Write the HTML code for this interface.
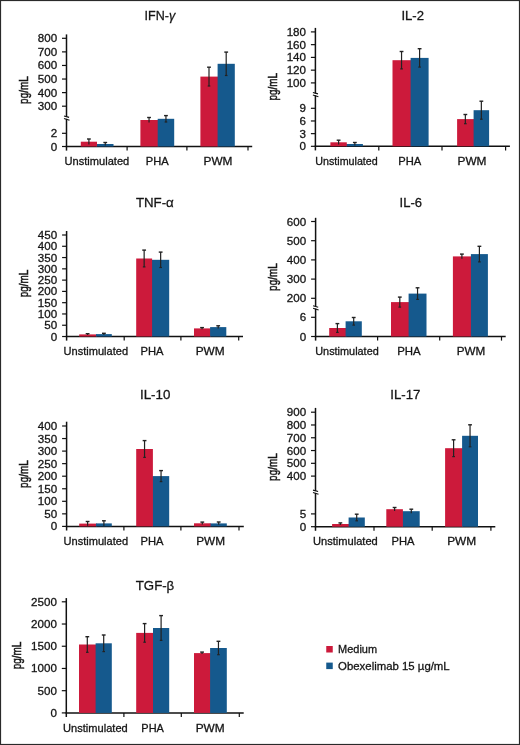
<!DOCTYPE html>
<html><head><meta charset="utf-8"><title>Cytokines</title>
<style>
html,body{margin:0;padding:0;background:#fff;}
body{width:520px;height:745px;overflow:hidden;}
svg{display:block;will-change:transform;}
text{font-family:"Liberation Sans", sans-serif;fill:#151515;stroke:#151515;stroke-width:0.3px;}
</style></head><body>
<svg width="520" height="745" viewBox="0 0 520 745">
<rect x="0" y="0" width="520" height="745" fill="#fff"/>
<rect x="0.5" y="0.5" width="519" height="744" fill="none" stroke="#2a2a2a" stroke-width="1.2"/>
<line x1="66.5" y1="34.4" x2="66.5" y2="117.0" stroke="#111" stroke-width="1.5"/>
<line x1="66.5" y1="118.8" x2="66.5" y2="150.6" stroke="#111" stroke-width="1.5"/>
<line x1="64.0" y1="116.0" x2="69.1" y2="117.4" stroke="#111" stroke-width="1.1"/>
<line x1="64.0" y1="118.4" x2="69.5" y2="120.2" stroke="#111" stroke-width="1.1"/>
<line x1="62.0" y1="38.3" x2="66.5" y2="38.3" stroke="#111" stroke-width="1.2"/>
<text x="57.10" y="42.30" font-size="11.6" text-anchor="end" >800</text>
<line x1="62.0" y1="51.88" x2="66.5" y2="51.88" stroke="#111" stroke-width="1.2"/>
<text x="57.10" y="55.88" font-size="11.6" text-anchor="end" >700</text>
<line x1="62.0" y1="65.46" x2="66.5" y2="65.46" stroke="#111" stroke-width="1.2"/>
<text x="57.10" y="69.46" font-size="11.6" text-anchor="end" >600</text>
<line x1="62.0" y1="79.04" x2="66.5" y2="79.04" stroke="#111" stroke-width="1.2"/>
<text x="57.10" y="83.04" font-size="11.6" text-anchor="end" >500</text>
<line x1="62.0" y1="92.62" x2="66.5" y2="92.62" stroke="#111" stroke-width="1.2"/>
<text x="57.10" y="96.62" font-size="11.6" text-anchor="end" >400</text>
<line x1="62.0" y1="106.2" x2="66.5" y2="106.2" stroke="#111" stroke-width="1.2"/>
<text x="57.10" y="110.20" font-size="11.6" text-anchor="end" >300</text>
<line x1="62.0" y1="133.3" x2="66.5" y2="133.3" stroke="#111" stroke-width="1.2"/>
<text x="57.10" y="137.30" font-size="11.6" text-anchor="end" >2</text>
<line x1="62.0" y1="146.5" x2="66.5" y2="146.5" stroke="#111" stroke-width="1.2"/>
<text x="57.10" y="150.50" font-size="11.6" text-anchor="end" >0</text>
<line x1="65.75" y1="146.5" x2="252.2" y2="146.5" stroke="#111" stroke-width="1.5"/>
<line x1="127.1" y1="146.5" x2="127.1" y2="150.6" stroke="#111" stroke-width="1.2"/>
<line x1="186.9" y1="146.5" x2="186.9" y2="150.6" stroke="#111" stroke-width="1.2"/>
<line x1="248" y1="146.5" x2="248" y2="150.6" stroke="#111" stroke-width="1.2"/>
<rect x="96.20" y="144" width="17.30" height="2.50" fill="#15598d"/>
<rect x="80.8" y="141.7" width="16.20" height="4.80" fill="#cc1a3b"/>
<rect x="140.4" y="120" width="18.10" height="26.50" fill="#cc1a3b"/>
<rect x="157.7" y="118.8" width="16.50" height="27.70" fill="#15598d"/>
<rect x="200.4" y="76.6" width="18.00" height="69.90" fill="#cc1a3b"/>
<rect x="217.6" y="63.8" width="17.20" height="82.70" fill="#15598d"/>
<line x1="88.90" y1="139" x2="88.90" y2="144.40" stroke="#222" stroke-width="1.2"/>
<line x1="87.00" y1="139" x2="90.80" y2="139" stroke="#222" stroke-width="1.4"/>
<line x1="105.25" y1="142.5" x2="105.25" y2="145.50" stroke="#222" stroke-width="1.2"/>
<line x1="103.35" y1="142.5" x2="107.15" y2="142.5" stroke="#222" stroke-width="1.4"/>
<line x1="149.05" y1="117.5" x2="149.05" y2="122.50" stroke="#222" stroke-width="1.2"/>
<line x1="147.15" y1="117.5" x2="150.95" y2="117.5" stroke="#222" stroke-width="1.4"/>
<line x1="165.95" y1="115.6" x2="165.95" y2="122.00" stroke="#222" stroke-width="1.2"/>
<line x1="164.05" y1="115.6" x2="167.85" y2="115.6" stroke="#222" stroke-width="1.4"/>
<line x1="164.65" y1="122.00" x2="167.25" y2="122.00" stroke="#222" stroke-width="1.2"/>
<line x1="209.00" y1="67.2" x2="209.00" y2="86.00" stroke="#222" stroke-width="1.2"/>
<line x1="207.10" y1="67.2" x2="210.90" y2="67.2" stroke="#222" stroke-width="1.4"/>
<line x1="207.70" y1="86.00" x2="210.30" y2="86.00" stroke="#222" stroke-width="1.2"/>
<line x1="226.20" y1="52.1" x2="226.20" y2="75.50" stroke="#222" stroke-width="1.2"/>
<line x1="224.30" y1="52.1" x2="228.10" y2="52.1" stroke="#222" stroke-width="1.4"/>
<line x1="224.90" y1="75.50" x2="227.50" y2="75.50" stroke="#222" stroke-width="1.2"/>
<text x="96.90" y="165.30" font-size="11.2" text-anchor="middle" textLength="64.7" lengthAdjust="spacingAndGlyphs">Unstimulated</text>
<text x="157.30" y="165.30" font-size="11.2" text-anchor="middle" textLength="22.9" lengthAdjust="spacingAndGlyphs">PHA</text>
<text x="218.00" y="165.30" font-size="11.2" text-anchor="middle" textLength="28.9" lengthAdjust="spacingAndGlyphs">PWM</text>
<text x="144.6" y="19.6" font-size="13.6" textLength="30.599999999999994" lengthAdjust="spacingAndGlyphs">IFN-<tspan font-style="italic">γ</tspan></text>
<text transform="translate(27.6,90.1) rotate(-90)" x="0" y="0" font-size="13.6" text-anchor="middle" style="stroke-width:0.55px" textLength="27.6" lengthAdjust="spacingAndGlyphs">pg/mL</text>
<line x1="315.4" y1="27.9" x2="315.4" y2="93.5" stroke="#111" stroke-width="1.5"/>
<line x1="315.4" y1="95.3" x2="315.4" y2="150.4" stroke="#111" stroke-width="1.5"/>
<line x1="312.9" y1="92.5" x2="318.0" y2="93.9" stroke="#111" stroke-width="1.1"/>
<line x1="312.9" y1="94.9" x2="318.4" y2="96.7" stroke="#111" stroke-width="1.1"/>
<line x1="310.9" y1="31.9" x2="315.4" y2="31.9" stroke="#111" stroke-width="1.2"/>
<text x="306.00" y="35.90" font-size="11.6" text-anchor="end" >180</text>
<line x1="310.9" y1="44.65" x2="315.4" y2="44.65" stroke="#111" stroke-width="1.2"/>
<text x="306.00" y="48.65" font-size="11.6" text-anchor="end" >160</text>
<line x1="310.9" y1="57.4" x2="315.4" y2="57.4" stroke="#111" stroke-width="1.2"/>
<text x="306.00" y="61.40" font-size="11.6" text-anchor="end" >140</text>
<line x1="310.9" y1="70.15" x2="315.4" y2="70.15" stroke="#111" stroke-width="1.2"/>
<text x="306.00" y="74.15" font-size="11.6" text-anchor="end" >120</text>
<line x1="310.9" y1="82.9" x2="315.4" y2="82.9" stroke="#111" stroke-width="1.2"/>
<text x="306.00" y="86.90" font-size="11.6" text-anchor="end" >100</text>
<line x1="310.9" y1="108.3" x2="315.4" y2="108.3" stroke="#111" stroke-width="1.2"/>
<text x="306.00" y="112.30" font-size="11.6" text-anchor="end" >9</text>
<line x1="310.9" y1="120.97" x2="315.4" y2="120.97" stroke="#111" stroke-width="1.2"/>
<text x="306.00" y="124.97" font-size="11.6" text-anchor="end" >6</text>
<line x1="310.9" y1="133.64" x2="315.4" y2="133.64" stroke="#111" stroke-width="1.2"/>
<text x="306.00" y="137.64" font-size="11.6" text-anchor="end" >3</text>
<line x1="310.9" y1="146.31" x2="315.4" y2="146.31" stroke="#111" stroke-width="1.2"/>
<text x="306.00" y="150.31" font-size="11.6" text-anchor="end" >0</text>
<line x1="314.65" y1="146.3" x2="509.9" y2="146.3" stroke="#111" stroke-width="1.5"/>
<line x1="378.8" y1="146.3" x2="378.8" y2="150.4" stroke="#111" stroke-width="1.2"/>
<line x1="442" y1="146.3" x2="442" y2="150.4" stroke="#111" stroke-width="1.2"/>
<line x1="505.6" y1="146.3" x2="505.6" y2="150.4" stroke="#111" stroke-width="1.2"/>
<rect x="346.00" y="144" width="16.90" height="2.30" fill="#15598d"/>
<rect x="330.4" y="142.3" width="16.40" height="4.00" fill="#cc1a3b"/>
<rect x="392.5" y="60.2" width="18.90" height="86.10" fill="#cc1a3b"/>
<rect x="410.6" y="57.9" width="18.00" height="88.40" fill="#15598d"/>
<rect x="457.1" y="119.1" width="17.30" height="27.20" fill="#cc1a3b"/>
<rect x="473.6" y="110.2" width="15.50" height="36.10" fill="#15598d"/>
<line x1="338.60" y1="140.2" x2="338.60" y2="144.40" stroke="#222" stroke-width="1.2"/>
<line x1="336.70" y1="140.2" x2="340.50" y2="140.2" stroke="#222" stroke-width="1.4"/>
<line x1="354.85" y1="142.5" x2="354.85" y2="145.50" stroke="#222" stroke-width="1.2"/>
<line x1="352.95" y1="142.5" x2="356.75" y2="142.5" stroke="#222" stroke-width="1.4"/>
<line x1="401.55" y1="51.5" x2="401.55" y2="68.90" stroke="#222" stroke-width="1.2"/>
<line x1="399.65" y1="51.5" x2="403.45" y2="51.5" stroke="#222" stroke-width="1.4"/>
<line x1="400.25" y1="68.90" x2="402.85" y2="68.90" stroke="#222" stroke-width="1.2"/>
<line x1="419.60" y1="48.7" x2="419.60" y2="67.10" stroke="#222" stroke-width="1.2"/>
<line x1="417.70" y1="48.7" x2="421.50" y2="48.7" stroke="#222" stroke-width="1.4"/>
<line x1="418.30" y1="67.10" x2="420.90" y2="67.10" stroke="#222" stroke-width="1.2"/>
<line x1="465.35" y1="114.5" x2="465.35" y2="123.70" stroke="#222" stroke-width="1.2"/>
<line x1="463.45" y1="114.5" x2="467.25" y2="114.5" stroke="#222" stroke-width="1.4"/>
<line x1="464.05" y1="123.70" x2="466.65" y2="123.70" stroke="#222" stroke-width="1.2"/>
<line x1="481.35" y1="101.2" x2="481.35" y2="119.20" stroke="#222" stroke-width="1.2"/>
<line x1="479.45" y1="101.2" x2="483.25" y2="101.2" stroke="#222" stroke-width="1.4"/>
<line x1="480.05" y1="119.20" x2="482.65" y2="119.20" stroke="#222" stroke-width="1.2"/>
<text x="346.50" y="165.00" font-size="11.2" text-anchor="middle" textLength="62.5" lengthAdjust="spacingAndGlyphs">Unstimulated</text>
<text x="409.70" y="165.00" font-size="11.2" text-anchor="middle" textLength="23" lengthAdjust="spacingAndGlyphs">PHA</text>
<text x="472.00" y="165.00" font-size="11.2" text-anchor="middle" textLength="29" lengthAdjust="spacingAndGlyphs">PWM</text>
<text x="401.4" y="20" font-size="13.6" textLength="22.600000000000023" lengthAdjust="spacingAndGlyphs">IL-2</text>
<text transform="translate(277.2,86.8) rotate(-90)" x="0" y="0" font-size="13.6" text-anchor="middle" style="stroke-width:0.55px" textLength="27.6" lengthAdjust="spacingAndGlyphs">pg/mL</text>
<line x1="66.6" y1="231" x2="66.6" y2="340.6" stroke="#111" stroke-width="1.5"/>
<line x1="62.099999999999994" y1="235.0" x2="66.6" y2="235.0" stroke="#111" stroke-width="1.2"/>
<text x="57.20" y="239.00" font-size="11.6" text-anchor="end" >450</text>
<line x1="62.099999999999994" y1="246.28" x2="66.6" y2="246.28" stroke="#111" stroke-width="1.2"/>
<text x="57.20" y="250.28" font-size="11.6" text-anchor="end" >400</text>
<line x1="62.099999999999994" y1="257.56" x2="66.6" y2="257.56" stroke="#111" stroke-width="1.2"/>
<text x="57.20" y="261.56" font-size="11.6" text-anchor="end" >350</text>
<line x1="62.099999999999994" y1="268.84" x2="66.6" y2="268.84" stroke="#111" stroke-width="1.2"/>
<text x="57.20" y="272.84" font-size="11.6" text-anchor="end" >300</text>
<line x1="62.099999999999994" y1="280.12" x2="66.6" y2="280.12" stroke="#111" stroke-width="1.2"/>
<text x="57.20" y="284.12" font-size="11.6" text-anchor="end" >250</text>
<line x1="62.099999999999994" y1="291.4" x2="66.6" y2="291.4" stroke="#111" stroke-width="1.2"/>
<text x="57.20" y="295.40" font-size="11.6" text-anchor="end" >200</text>
<line x1="62.099999999999994" y1="302.68" x2="66.6" y2="302.68" stroke="#111" stroke-width="1.2"/>
<text x="57.20" y="306.68" font-size="11.6" text-anchor="end" >150</text>
<line x1="62.099999999999994" y1="313.96" x2="66.6" y2="313.96" stroke="#111" stroke-width="1.2"/>
<text x="57.20" y="317.96" font-size="11.6" text-anchor="end" >100</text>
<line x1="62.099999999999994" y1="325.24" x2="66.6" y2="325.24" stroke="#111" stroke-width="1.2"/>
<text x="57.20" y="329.24" font-size="11.6" text-anchor="end" >50</text>
<line x1="62.099999999999994" y1="336.52" x2="66.6" y2="336.52" stroke="#111" stroke-width="1.2"/>
<text x="57.20" y="340.52" font-size="11.6" text-anchor="end" >0</text>
<line x1="65.85" y1="336.5" x2="243" y2="336.5" stroke="#111" stroke-width="1.5"/>
<line x1="124.2" y1="336.5" x2="124.2" y2="340.6" stroke="#111" stroke-width="1.2"/>
<line x1="180.9" y1="336.5" x2="180.9" y2="340.6" stroke="#111" stroke-width="1.2"/>
<line x1="238.7" y1="336.5" x2="238.7" y2="340.6" stroke="#111" stroke-width="1.2"/>
<rect x="79.2" y="334.4" width="17.60" height="2.10" fill="#cc1a3b"/>
<rect x="96" y="334.1" width="15.80" height="2.40" fill="#15598d"/>
<rect x="151.30" y="259.8" width="17.90" height="76.70" fill="#15598d"/>
<rect x="136.2" y="258.5" width="15.90" height="78.00" fill="#cc1a3b"/>
<rect x="194" y="328.4" width="16.90" height="8.10" fill="#cc1a3b"/>
<rect x="210.1" y="327.1" width="16.20" height="9.40" fill="#15598d"/>
<line x1="87.60" y1="333.7" x2="87.60" y2="335.10" stroke="#222" stroke-width="1.2"/>
<line x1="85.70" y1="333.7" x2="89.50" y2="333.7" stroke="#222" stroke-width="1.4"/>
<line x1="103.90" y1="333.3" x2="103.90" y2="334.90" stroke="#222" stroke-width="1.2"/>
<line x1="102.00" y1="333.3" x2="105.80" y2="333.3" stroke="#222" stroke-width="1.4"/>
<line x1="144.15" y1="250.1" x2="144.15" y2="266.90" stroke="#222" stroke-width="1.2"/>
<line x1="142.25" y1="250.1" x2="146.05" y2="250.1" stroke="#222" stroke-width="1.4"/>
<line x1="142.85" y1="266.90" x2="145.45" y2="266.90" stroke="#222" stroke-width="1.2"/>
<line x1="160.65" y1="252.1" x2="160.65" y2="267.50" stroke="#222" stroke-width="1.2"/>
<line x1="158.75" y1="252.1" x2="162.55" y2="252.1" stroke="#222" stroke-width="1.4"/>
<line x1="159.35" y1="267.50" x2="161.95" y2="267.50" stroke="#222" stroke-width="1.2"/>
<line x1="202.05" y1="327.6" x2="202.05" y2="329.20" stroke="#222" stroke-width="1.2"/>
<line x1="200.15" y1="327.6" x2="203.95" y2="327.6" stroke="#222" stroke-width="1.4"/>
<line x1="218.20" y1="325.8" x2="218.20" y2="328.40" stroke="#222" stroke-width="1.2"/>
<line x1="216.30" y1="325.8" x2="220.10" y2="325.8" stroke="#222" stroke-width="1.4"/>
<text x="95.80" y="355.30" font-size="11.2" text-anchor="middle" textLength="64.5" lengthAdjust="spacingAndGlyphs">Unstimulated</text>
<text x="152.00" y="355.30" font-size="11.2" text-anchor="middle" textLength="23" lengthAdjust="spacingAndGlyphs">PHA</text>
<text x="210.20" y="355.30" font-size="11.2" text-anchor="middle" textLength="29" lengthAdjust="spacingAndGlyphs">PWM</text>
<text x="135.9" y="206.9" font-size="13.6" textLength="37.900000000000006" lengthAdjust="spacingAndGlyphs">TNF-α</text>
<text transform="translate(27.6,283.5) rotate(-90)" x="0" y="0" font-size="13.6" text-anchor="middle" style="stroke-width:0.55px" textLength="27.6" lengthAdjust="spacingAndGlyphs">pg/mL</text>
<line x1="315.6" y1="217.8" x2="315.6" y2="306.8" stroke="#111" stroke-width="1.5"/>
<line x1="315.6" y1="308.6" x2="315.6" y2="340.6" stroke="#111" stroke-width="1.5"/>
<line x1="313.1" y1="305.8" x2="318.20000000000005" y2="307.2" stroke="#111" stroke-width="1.1"/>
<line x1="313.1" y1="308.2" x2="318.6" y2="310.0" stroke="#111" stroke-width="1.1"/>
<line x1="311.1" y1="221.5" x2="315.6" y2="221.5" stroke="#111" stroke-width="1.2"/>
<text x="306.20" y="225.50" font-size="11.6" text-anchor="end" >600</text>
<line x1="311.1" y1="240.7" x2="315.6" y2="240.7" stroke="#111" stroke-width="1.2"/>
<text x="306.20" y="244.70" font-size="11.6" text-anchor="end" >500</text>
<line x1="311.1" y1="259.9" x2="315.6" y2="259.9" stroke="#111" stroke-width="1.2"/>
<text x="306.20" y="263.90" font-size="11.6" text-anchor="end" >400</text>
<line x1="311.1" y1="279.1" x2="315.6" y2="279.1" stroke="#111" stroke-width="1.2"/>
<text x="306.20" y="283.10" font-size="11.6" text-anchor="end" >300</text>
<line x1="311.1" y1="298.3" x2="315.6" y2="298.3" stroke="#111" stroke-width="1.2"/>
<text x="306.20" y="302.30" font-size="11.6" text-anchor="end" >200</text>
<line x1="311.1" y1="317.3" x2="315.6" y2="317.3" stroke="#111" stroke-width="1.2"/>
<text x="306.20" y="321.30" font-size="11.6" text-anchor="end" >6</text>
<line x1="311.1" y1="336.5" x2="315.6" y2="336.5" stroke="#111" stroke-width="1.2"/>
<text x="306.20" y="340.50" font-size="11.6" text-anchor="end" >0</text>
<line x1="314.85" y1="336.5" x2="505.7" y2="336.5" stroke="#111" stroke-width="1.5"/>
<line x1="377.6" y1="336.5" x2="377.6" y2="340.6" stroke="#111" stroke-width="1.2"/>
<line x1="439.7" y1="336.5" x2="439.7" y2="340.6" stroke="#111" stroke-width="1.2"/>
<line x1="501.5" y1="336.5" x2="501.5" y2="340.6" stroke="#111" stroke-width="1.2"/>
<rect x="329.2" y="328" width="17.20" height="8.50" fill="#cc1a3b"/>
<rect x="345.6" y="321.3" width="16.20" height="15.20" fill="#15598d"/>
<rect x="391" y="302.1" width="18.40" height="34.40" fill="#cc1a3b"/>
<rect x="408.6" y="293.6" width="17.90" height="42.90" fill="#15598d"/>
<rect x="452.9" y="256.4" width="18.80" height="80.10" fill="#cc1a3b"/>
<rect x="470.9" y="254.1" width="17.00" height="82.40" fill="#15598d"/>
<line x1="337.40" y1="323.6" x2="337.40" y2="332.40" stroke="#222" stroke-width="1.2"/>
<line x1="335.50" y1="323.6" x2="339.30" y2="323.6" stroke="#222" stroke-width="1.4"/>
<line x1="336.10" y1="332.40" x2="338.70" y2="332.40" stroke="#222" stroke-width="1.2"/>
<line x1="353.70" y1="317.5" x2="353.70" y2="325.10" stroke="#222" stroke-width="1.2"/>
<line x1="351.80" y1="317.5" x2="355.60" y2="317.5" stroke="#222" stroke-width="1.4"/>
<line x1="352.40" y1="325.10" x2="355.00" y2="325.10" stroke="#222" stroke-width="1.2"/>
<line x1="399.80" y1="297.1" x2="399.80" y2="307.10" stroke="#222" stroke-width="1.2"/>
<line x1="397.90" y1="297.1" x2="401.70" y2="297.1" stroke="#222" stroke-width="1.4"/>
<line x1="398.50" y1="307.10" x2="401.10" y2="307.10" stroke="#222" stroke-width="1.2"/>
<line x1="417.55" y1="287.8" x2="417.55" y2="299.40" stroke="#222" stroke-width="1.2"/>
<line x1="415.65" y1="287.8" x2="419.45" y2="287.8" stroke="#222" stroke-width="1.4"/>
<line x1="416.25" y1="299.40" x2="418.85" y2="299.40" stroke="#222" stroke-width="1.2"/>
<line x1="461.90" y1="254.1" x2="461.90" y2="258.70" stroke="#222" stroke-width="1.2"/>
<line x1="460.00" y1="254.1" x2="463.80" y2="254.1" stroke="#222" stroke-width="1.4"/>
<line x1="479.40" y1="246.3" x2="479.40" y2="261.90" stroke="#222" stroke-width="1.2"/>
<line x1="477.50" y1="246.3" x2="481.30" y2="246.3" stroke="#222" stroke-width="1.4"/>
<line x1="478.10" y1="261.90" x2="480.70" y2="261.90" stroke="#222" stroke-width="1.2"/>
<text x="347.00" y="355.40" font-size="11.2" text-anchor="middle" textLength="63.5" lengthAdjust="spacingAndGlyphs">Unstimulated</text>
<text x="409.00" y="355.40" font-size="11.2" text-anchor="middle" textLength="23.5" lengthAdjust="spacingAndGlyphs">PHA</text>
<text x="471.00" y="355.40" font-size="11.2" text-anchor="middle" textLength="28.5" lengthAdjust="spacingAndGlyphs">PWM</text>
<text x="399.6" y="207.1" font-size="13.6" textLength="22.399999999999977" lengthAdjust="spacingAndGlyphs">IL-6</text>
<text transform="translate(277.2,277.1) rotate(-90)" x="0" y="0" font-size="13.6" text-anchor="middle" style="stroke-width:0.55px" textLength="27.6" lengthAdjust="spacingAndGlyphs">pg/mL</text>
<line x1="66.6" y1="421.7" x2="66.6" y2="530.5" stroke="#111" stroke-width="1.5"/>
<line x1="62.099999999999994" y1="426.0" x2="66.6" y2="426.0" stroke="#111" stroke-width="1.2"/>
<text x="57.20" y="430.00" font-size="11.6" text-anchor="end" >400</text>
<line x1="62.099999999999994" y1="438.55" x2="66.6" y2="438.55" stroke="#111" stroke-width="1.2"/>
<text x="57.20" y="442.55" font-size="11.6" text-anchor="end" >350</text>
<line x1="62.099999999999994" y1="451.1" x2="66.6" y2="451.1" stroke="#111" stroke-width="1.2"/>
<text x="57.20" y="455.10" font-size="11.6" text-anchor="end" >300</text>
<line x1="62.099999999999994" y1="463.65" x2="66.6" y2="463.65" stroke="#111" stroke-width="1.2"/>
<text x="57.20" y="467.65" font-size="11.6" text-anchor="end" >250</text>
<line x1="62.099999999999994" y1="476.2" x2="66.6" y2="476.2" stroke="#111" stroke-width="1.2"/>
<text x="57.20" y="480.20" font-size="11.6" text-anchor="end" >200</text>
<line x1="62.099999999999994" y1="488.75" x2="66.6" y2="488.75" stroke="#111" stroke-width="1.2"/>
<text x="57.20" y="492.75" font-size="11.6" text-anchor="end" >150</text>
<line x1="62.099999999999994" y1="501.3" x2="66.6" y2="501.3" stroke="#111" stroke-width="1.2"/>
<text x="57.20" y="505.30" font-size="11.6" text-anchor="end" >100</text>
<line x1="62.099999999999994" y1="513.85" x2="66.6" y2="513.85" stroke="#111" stroke-width="1.2"/>
<text x="57.20" y="517.85" font-size="11.6" text-anchor="end" >50</text>
<line x1="62.099999999999994" y1="526.4" x2="66.6" y2="526.4" stroke="#111" stroke-width="1.2"/>
<text x="57.20" y="530.40" font-size="11.6" text-anchor="end" >0</text>
<line x1="65.85" y1="526.4" x2="243.8" y2="526.4" stroke="#111" stroke-width="1.5"/>
<line x1="123.9" y1="526.4" x2="123.9" y2="530.5" stroke="#111" stroke-width="1.2"/>
<line x1="180.9" y1="526.4" x2="180.9" y2="530.5" stroke="#111" stroke-width="1.2"/>
<line x1="239" y1="526.4" x2="239" y2="530.5" stroke="#111" stroke-width="1.2"/>
<rect x="79.2" y="523.6" width="17.60" height="2.80" fill="#cc1a3b"/>
<rect x="96" y="523.4" width="15.80" height="3.00" fill="#15598d"/>
<rect x="152.10" y="476.1" width="17.10" height="50.30" fill="#15598d"/>
<rect x="136.2" y="449" width="16.70" height="77.40" fill="#cc1a3b"/>
<rect x="209.80" y="523.4" width="17.00" height="3.00" fill="#15598d"/>
<rect x="194" y="523.3" width="16.60" height="3.10" fill="#cc1a3b"/>
<line x1="87.60" y1="521.5" x2="87.60" y2="525.70" stroke="#222" stroke-width="1.2"/>
<line x1="85.70" y1="521.5" x2="89.50" y2="521.5" stroke="#222" stroke-width="1.4"/>
<line x1="103.90" y1="520.8" x2="103.90" y2="526.00" stroke="#222" stroke-width="1.2"/>
<line x1="102.00" y1="520.8" x2="105.80" y2="520.8" stroke="#222" stroke-width="1.4"/>
<line x1="144.55" y1="440.6" x2="144.55" y2="457.40" stroke="#222" stroke-width="1.2"/>
<line x1="142.65" y1="440.6" x2="146.45" y2="440.6" stroke="#222" stroke-width="1.4"/>
<line x1="143.25" y1="457.40" x2="145.85" y2="457.40" stroke="#222" stroke-width="1.2"/>
<line x1="161.05" y1="470.6" x2="161.05" y2="481.60" stroke="#222" stroke-width="1.2"/>
<line x1="159.15" y1="470.6" x2="162.95" y2="470.6" stroke="#222" stroke-width="1.4"/>
<line x1="159.75" y1="481.60" x2="162.35" y2="481.60" stroke="#222" stroke-width="1.2"/>
<line x1="202.30" y1="522.1" x2="202.30" y2="524.50" stroke="#222" stroke-width="1.2"/>
<line x1="200.40" y1="522.1" x2="204.20" y2="522.1" stroke="#222" stroke-width="1.4"/>
<line x1="218.70" y1="522" x2="218.70" y2="524.80" stroke="#222" stroke-width="1.2"/>
<line x1="216.80" y1="522" x2="220.60" y2="522" stroke="#222" stroke-width="1.4"/>
<text x="95.80" y="545.20" font-size="11.2" text-anchor="middle" textLength="64.6" lengthAdjust="spacingAndGlyphs">Unstimulated</text>
<text x="152.00" y="545.20" font-size="11.2" text-anchor="middle" textLength="23" lengthAdjust="spacingAndGlyphs">PHA</text>
<text x="210.60" y="545.20" font-size="11.2" text-anchor="middle" textLength="28.8" lengthAdjust="spacingAndGlyphs">PWM</text>
<text x="140.0" y="399" font-size="13.6" textLength="30.400000000000006" lengthAdjust="spacingAndGlyphs">IL-10</text>
<text transform="translate(27.6,474.1) rotate(-90)" x="0" y="0" font-size="13.6" text-anchor="middle" style="stroke-width:0.55px" textLength="27.6" lengthAdjust="spacingAndGlyphs">pg/mL</text>
<line x1="315.5" y1="407.9" x2="315.5" y2="491.1" stroke="#111" stroke-width="1.5"/>
<line x1="315.5" y1="492.90000000000003" x2="315.5" y2="530.8000000000001" stroke="#111" stroke-width="1.5"/>
<line x1="313.0" y1="490.1" x2="318.1" y2="491.5" stroke="#111" stroke-width="1.1"/>
<line x1="313.0" y1="492.5" x2="318.5" y2="494.3" stroke="#111" stroke-width="1.1"/>
<line x1="311.0" y1="412.2" x2="315.5" y2="412.2" stroke="#111" stroke-width="1.2"/>
<text x="306.10" y="416.20" font-size="11.6" text-anchor="end" >900</text>
<line x1="311.0" y1="424.98" x2="315.5" y2="424.98" stroke="#111" stroke-width="1.2"/>
<text x="306.10" y="428.98" font-size="11.6" text-anchor="end" >800</text>
<line x1="311.0" y1="437.76" x2="315.5" y2="437.76" stroke="#111" stroke-width="1.2"/>
<text x="306.10" y="441.76" font-size="11.6" text-anchor="end" >700</text>
<line x1="311.0" y1="450.54" x2="315.5" y2="450.54" stroke="#111" stroke-width="1.2"/>
<text x="306.10" y="454.54" font-size="11.6" text-anchor="end" >600</text>
<line x1="311.0" y1="463.32" x2="315.5" y2="463.32" stroke="#111" stroke-width="1.2"/>
<text x="306.10" y="467.32" font-size="11.6" text-anchor="end" >500</text>
<line x1="311.0" y1="476.1" x2="315.5" y2="476.1" stroke="#111" stroke-width="1.2"/>
<text x="306.10" y="480.10" font-size="11.6" text-anchor="end" >400</text>
<line x1="311.0" y1="513.9" x2="315.5" y2="513.9" stroke="#111" stroke-width="1.2"/>
<text x="306.10" y="517.90" font-size="11.6" text-anchor="end" >5</text>
<line x1="311.0" y1="526.7" x2="315.5" y2="526.7" stroke="#111" stroke-width="1.2"/>
<text x="306.10" y="530.70" font-size="11.6" text-anchor="end" >0</text>
<line x1="314.75" y1="526.7" x2="495.3" y2="526.7" stroke="#111" stroke-width="1.5"/>
<line x1="374" y1="526.7" x2="374" y2="530.8000000000001" stroke="#111" stroke-width="1.2"/>
<line x1="432.2" y1="526.7" x2="432.2" y2="530.8000000000001" stroke="#111" stroke-width="1.2"/>
<line x1="490.9" y1="526.7" x2="490.9" y2="530.8000000000001" stroke="#111" stroke-width="1.2"/>
<rect x="332.1" y="524" width="17.30" height="2.70" fill="#cc1a3b"/>
<rect x="348.6" y="517.5" width="16.20" height="9.20" fill="#15598d"/>
<rect x="402.10" y="511.2" width="17.60" height="15.50" fill="#15598d"/>
<rect x="386.3" y="509.2" width="16.60" height="17.50" fill="#cc1a3b"/>
<rect x="445.1" y="448.2" width="17.80" height="78.50" fill="#cc1a3b"/>
<rect x="462.1" y="435.8" width="15.90" height="90.90" fill="#15598d"/>
<line x1="340.35" y1="522.9" x2="340.35" y2="525.10" stroke="#222" stroke-width="1.2"/>
<line x1="338.45" y1="522.9" x2="342.25" y2="522.9" stroke="#222" stroke-width="1.4"/>
<line x1="356.70" y1="514.2" x2="356.70" y2="520.80" stroke="#222" stroke-width="1.2"/>
<line x1="354.80" y1="514.2" x2="358.60" y2="514.2" stroke="#222" stroke-width="1.4"/>
<line x1="355.40" y1="520.80" x2="358.00" y2="520.80" stroke="#222" stroke-width="1.2"/>
<line x1="394.60" y1="507.5" x2="394.60" y2="510.90" stroke="#222" stroke-width="1.2"/>
<line x1="392.70" y1="507.5" x2="396.50" y2="507.5" stroke="#222" stroke-width="1.4"/>
<line x1="411.30" y1="509.2" x2="411.30" y2="513.20" stroke="#222" stroke-width="1.2"/>
<line x1="409.40" y1="509.2" x2="413.20" y2="509.2" stroke="#222" stroke-width="1.4"/>
<line x1="453.60" y1="439.8" x2="453.60" y2="456.60" stroke="#222" stroke-width="1.2"/>
<line x1="451.70" y1="439.8" x2="455.50" y2="439.8" stroke="#222" stroke-width="1.4"/>
<line x1="452.30" y1="456.60" x2="454.90" y2="456.60" stroke="#222" stroke-width="1.2"/>
<line x1="470.05" y1="424.8" x2="470.05" y2="446.80" stroke="#222" stroke-width="1.2"/>
<line x1="468.15" y1="424.8" x2="471.95" y2="424.8" stroke="#222" stroke-width="1.4"/>
<line x1="468.75" y1="446.80" x2="471.35" y2="446.80" stroke="#222" stroke-width="1.2"/>
<text x="345.40" y="545.40" font-size="11.2" text-anchor="middle" textLength="64.8" lengthAdjust="spacingAndGlyphs">Unstimulated</text>
<text x="403.00" y="545.40" font-size="11.2" text-anchor="middle" textLength="23" lengthAdjust="spacingAndGlyphs">PHA</text>
<text x="461.70" y="545.40" font-size="11.2" text-anchor="middle" textLength="29" lengthAdjust="spacingAndGlyphs">PWM</text>
<text x="390.3" y="399" font-size="13.6" textLength="30.099999999999966" lengthAdjust="spacingAndGlyphs">IL-17</text>
<text transform="translate(277.2,467.1) rotate(-90)" x="0" y="0" font-size="13.6" text-anchor="middle" style="stroke-width:0.55px" textLength="27.6" lengthAdjust="spacingAndGlyphs">pg/mL</text>
<line x1="66.3" y1="598.1" x2="66.3" y2="717.0" stroke="#111" stroke-width="1.5"/>
<line x1="61.8" y1="601.8" x2="66.3" y2="601.8" stroke="#111" stroke-width="1.2"/>
<text x="56.90" y="605.80" font-size="11.6" text-anchor="end" >2500</text>
<line x1="61.8" y1="624.02" x2="66.3" y2="624.02" stroke="#111" stroke-width="1.2"/>
<text x="56.90" y="628.02" font-size="11.6" text-anchor="end" >2000</text>
<line x1="61.8" y1="646.24" x2="66.3" y2="646.24" stroke="#111" stroke-width="1.2"/>
<text x="56.90" y="650.24" font-size="11.6" text-anchor="end" >1500</text>
<line x1="61.8" y1="668.46" x2="66.3" y2="668.46" stroke="#111" stroke-width="1.2"/>
<text x="56.90" y="672.46" font-size="11.6" text-anchor="end" >1000</text>
<line x1="61.8" y1="690.68" x2="66.3" y2="690.68" stroke="#111" stroke-width="1.2"/>
<text x="56.90" y="694.68" font-size="11.6" text-anchor="end" >500</text>
<line x1="61.8" y1="712.9" x2="66.3" y2="712.9" stroke="#111" stroke-width="1.2"/>
<text x="56.90" y="716.90" font-size="11.6" text-anchor="end" >0</text>
<line x1="65.55" y1="712.9" x2="243.7" y2="712.9" stroke="#111" stroke-width="1.5"/>
<line x1="123.9" y1="712.9" x2="123.9" y2="717.0" stroke="#111" stroke-width="1.2"/>
<line x1="181.3" y1="712.9" x2="181.3" y2="717.0" stroke="#111" stroke-width="1.2"/>
<line x1="239.3" y1="712.9" x2="239.3" y2="717.0" stroke="#111" stroke-width="1.2"/>
<rect x="79" y="644.5" width="17.40" height="68.40" fill="#cc1a3b"/>
<rect x="95.6" y="643.3" width="16.20" height="69.60" fill="#15598d"/>
<rect x="136.2" y="632.9" width="17.60" height="80.00" fill="#cc1a3b"/>
<rect x="153" y="628" width="16.20" height="84.90" fill="#15598d"/>
<rect x="194" y="653.1" width="16.90" height="59.80" fill="#cc1a3b"/>
<rect x="210.1" y="648" width="16.70" height="64.90" fill="#15598d"/>
<line x1="87.30" y1="636.7" x2="87.30" y2="652.30" stroke="#222" stroke-width="1.2"/>
<line x1="85.40" y1="636.7" x2="89.20" y2="636.7" stroke="#222" stroke-width="1.4"/>
<line x1="86.00" y1="652.30" x2="88.60" y2="652.30" stroke="#222" stroke-width="1.2"/>
<line x1="103.70" y1="635" x2="103.70" y2="651.60" stroke="#222" stroke-width="1.2"/>
<line x1="101.80" y1="635" x2="105.60" y2="635" stroke="#222" stroke-width="1.4"/>
<line x1="102.40" y1="651.60" x2="105.00" y2="651.60" stroke="#222" stroke-width="1.2"/>
<line x1="144.60" y1="623.6" x2="144.60" y2="642.20" stroke="#222" stroke-width="1.2"/>
<line x1="142.70" y1="623.6" x2="146.50" y2="623.6" stroke="#222" stroke-width="1.4"/>
<line x1="143.30" y1="642.20" x2="145.90" y2="642.20" stroke="#222" stroke-width="1.2"/>
<line x1="161.10" y1="615.6" x2="161.10" y2="640.40" stroke="#222" stroke-width="1.2"/>
<line x1="159.20" y1="615.6" x2="163.00" y2="615.6" stroke="#222" stroke-width="1.4"/>
<line x1="159.80" y1="640.40" x2="162.40" y2="640.40" stroke="#222" stroke-width="1.2"/>
<line x1="202.05" y1="652.1" x2="202.05" y2="654.10" stroke="#222" stroke-width="1.2"/>
<line x1="200.15" y1="652.1" x2="203.95" y2="652.1" stroke="#222" stroke-width="1.4"/>
<line x1="218.45" y1="641.3" x2="218.45" y2="654.70" stroke="#222" stroke-width="1.2"/>
<line x1="216.55" y1="641.3" x2="220.35" y2="641.3" stroke="#222" stroke-width="1.4"/>
<line x1="217.15" y1="654.70" x2="219.75" y2="654.70" stroke="#222" stroke-width="1.2"/>
<text x="95.40" y="732.00" font-size="11.2" text-anchor="middle" textLength="64.6" lengthAdjust="spacingAndGlyphs">Unstimulated</text>
<text x="152.60" y="732.00" font-size="11.2" text-anchor="middle" textLength="22.5" lengthAdjust="spacingAndGlyphs">PHA</text>
<text x="210.20" y="732.00" font-size="11.2" text-anchor="middle" textLength="29" lengthAdjust="spacingAndGlyphs">PWM</text>
<text x="135.8" y="590.2" font-size="13.6" textLength="38.39999999999998" lengthAdjust="spacingAndGlyphs">TGF-β</text>
<text transform="translate(21.2,655.5) rotate(-90)" x="0" y="0" font-size="13.6" text-anchor="middle" style="stroke-width:0.55px" textLength="27.6" lengthAdjust="spacingAndGlyphs">pg/mL</text>
<rect x="326.25" y="646" width="6.5" height="6.5" fill="#cc1a3b"/>
<rect x="326.25" y="662.6" width="6.5" height="6.5" fill="#15598d"/>
<text x="338.1" y="652.6" font-size="11.2" textLength="39" lengthAdjust="spacingAndGlyphs">Medium</text>
<text x="338.1" y="669.6" font-size="11.4" textLength="111.6" lengthAdjust="spacingAndGlyphs">Obexelimab 15 µg/mL</text>
</svg>
</body></html>
